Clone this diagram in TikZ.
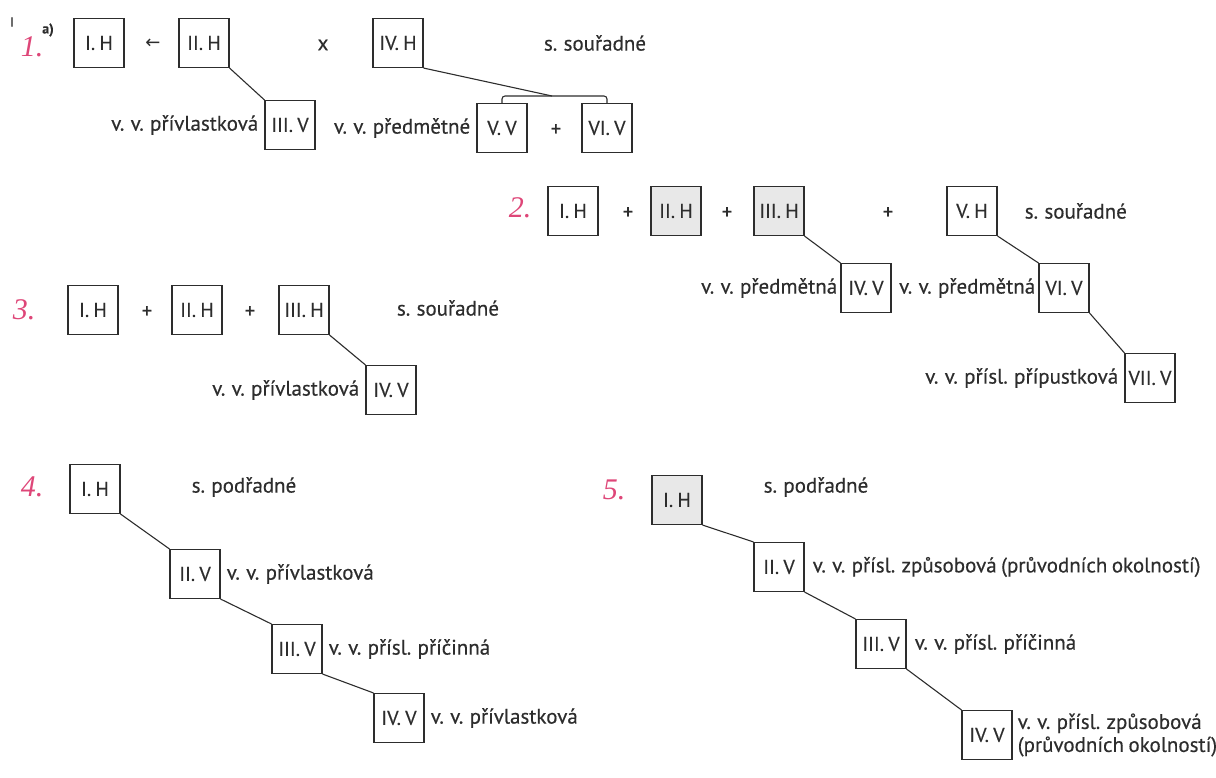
\documentclass[tikz,border=0pt]{standalone}
\usepackage{fontspec}
\setmainfont{PT Sans}[FakeBold=0.4, WordSpace=0.8]
\newfontfamily\handfont{Liberation Serif}
\newfontfamily\symfont{DejaVu Sans}
\definecolor{ink}{RGB}{45,45,45}
\definecolor{shade}{RGB}{232,232,232}
\definecolor{redpen}{RGB}{222,70,120}
\begin{document}
\begin{tikzpicture}[x=1pt,y=-1pt,
  box/.style={draw=ink, line width=1.1pt, minimum width=50pt, minimum height=49pt, inner sep=0pt, text=ink, font=\fontsize{20}{20}\selectfont},
  shadedbox/.style={box, fill=shade},
  lbl/.style={text=ink, inner sep=0pt, font=\fontsize{21}{23}\selectfont},
  num/.style={text=redpen, inner sep=0pt, font=\handfont\itshape\fontsize{30}{30}\selectfont},
  link/.style={draw=ink, line width=1.1pt}]
\useasboundingbox (0,0) rectangle (1216,778);

% ---------- 1 ----------
\node[lbl, font=\fontsize{13}{13}\selectfont] (roman) at (12,22) {I};
\node[lbl, font=\bfseries\fontsize{14}{14}\selectfont] (alabel) at (48,30) {a)};
\node[num] (n1) at (32,47) {1.};
\node[box] (A1) at (99,43) {I. H};
\node[lbl, font=\symfont\fontsize{18}{18}\selectfont] (arr) at (153,44) {←};
\node[lbl] (xs) at (323,45) {x};
\node[box] (A2) at (204,43) {II. H};
\node[box] (A4) at (398,43) {IV. H};
\node[lbl] (s1) at (595,43) {s. souřadné};
\node[box] (A3) at (290,125) {III. V};
\node[lbl, anchor=east] (l1) at ([xshift=-6pt]A3.west) {v. v. přívlastková};
\node[box] (A5) at (502,128) {V. V};
\node[lbl, anchor=east] (l2) at ([xshift=-6pt]A5.west) {v. v. předmětné};
\node[lbl] (p1) at (556,130) {+};
\node[box] (A6) at (607,128) {VI. V};
\coordinate (br) at (552,96);
\draw[link] (A2.south east) -- (A3.north west);
\draw[link] (A4.south east) -- (br);
\draw[link, rounded corners=3pt] (A5.north) |- (br) -| (A6.north);

% ---------- 2 ----------
\node[num] (n2) at (520,208) {2.};
\node[box] (B1) at (573,211) {I. H};
\node[lbl] (p2) at (628,213) {+};
\node[shadedbox] (B2) at (676,211) {II. H};
\node[lbl] (p3) at (727,213) {+};
\node[shadedbox] (B3) at (779,211) {III. H};
\node[lbl] (p4) at (888,213) {+};
\node[box] (B5) at (972,211) {V. H};
\node[lbl, anchor=west] (s2) at ([xshift=27pt]B5.east) {s. souřadné};
\node[box] (B4) at (866,288) {IV. V};
\node[lbl, anchor=east] (l3) at ([xshift=-3pt]B4.west) {v. v. předmětná};
\node[box] (B6) at (1064,288) {VI. V};
\node[lbl, anchor=east] (l4) at ([xshift=-3pt]B6.west) {v. v. předmětná};
\node[box] (B7) at (1150,378) {VII. V};
\node[lbl, anchor=east] (l5) at ([xshift=-6pt]B7.west) {v. v. přísl. přípustková};
\draw[link] (B3.south east) -- (B4.north west);
\draw[link] (B5.south east) -- (B6.north west);
\draw[link] (B6.south east) -- (B7.north west);

% ---------- 3 ----------
\node[num] (n3) at (24,310) {3.};
\node[box] (C1) at (93,310) {I. H};
\node[lbl] (p5) at (147,312) {+};
\node[box] (C2) at (197,310) {II. H};
\node[lbl] (p6) at (250,312) {+};
\node[box] (C3) at (304,310) {III. H};
\node[lbl] (s3) at (448,308) {s. souřadné};
\node[box] (C4) at (391,390) {IV. V};
\node[lbl, anchor=east] (l6) at ([xshift=-6pt]C4.west) {v. v. přívlastková};
\draw[link] (C3.south east) -- (C4.north west);

% ---------- 4 ----------
\node[num] (n4) at (32,487) {4.};
\node[box] (D1) at (95,489) {I. H};
\node[lbl] (s4) at (244,487) {s. podřadné};
\node[box] (D2) at (195,574) {II. V};
\node[lbl, anchor=west] (l7) at ([xshift=6pt]D2.east) {v. v. přívlastková};
\node[box] (D3) at (297,649) {III. V};
\node[lbl, anchor=west] (l8) at ([xshift=6pt]D3.east) {v. v. přísl. příčinná};
\node[box] (D4) at (399,718) {IV. V};
\node[lbl, anchor=west] (l9) at ([xshift=6pt]D4.east) {v. v. přívlastková};
\draw[link] (D1.south east) -- (D2.north west);
\draw[link] (D2.south east) -- (D3.north west);
\draw[link] (D3.south east) -- (D4.north west);

% ---------- 5 ----------
\node[num] (n5) at (614,490) {5.};
\node[shadedbox] (E1) at (677,500) {I. H};
\node[lbl] (s5) at (816,487) {s. podřadné};
\node[box] (E2) at (779,567) {II. V};
\node[lbl, anchor=west] (l10) at ([xshift=8pt]E2.east) {v. v. přísl. způsobová (průvodních okolností)};
\node[box] (E3) at (881,644) {III. V};
\node[lbl, anchor=west] (l11) at ([xshift=8pt]E3.east) {v. v. přísl. příčinná};
\node[box] (E4) at (987,735) {IV. V};
\node[lbl, anchor=west, align=left] (l12) at ([xshift=5pt]E4.east) {v. v. přísl. způsobová\\(průvodních okolností)};
\draw[link] (E1.south east) -- (E2.north west);
\draw[link] (E2.south east) -- (E3.north west);
\draw[link] (E3.south east) -- (E4.north west);
\end{tikzpicture}
\end{document}
